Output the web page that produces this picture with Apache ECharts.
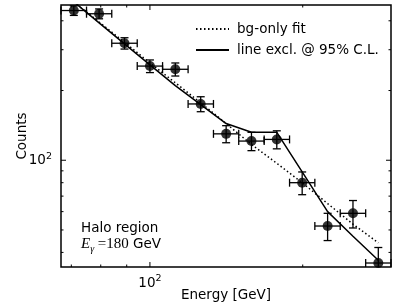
<!DOCTYPE html>
<html><head><meta charset="utf-8">
<script src="https://cdn.jsdelivr.net/npm/echarts@6/dist/echarts.min.js"></script>
<style>html,body{margin:0;padding:0;background:#fff}#c{width:407px;height:305px}</style>
</head><body><div id="c"></div>
<script>
// ---- data ----
const binCenters = [70.8, 79.4, 89.1, 100, 112.2, 125.9, 141.3, 158.5, 177.8, 199.5, 223.9, 251.2, 281.8];
const binLow     = [66.8, 75.0, 84.1, 94.4, 105.9, 118.9, 133.4, 149.6, 167.9, 188.4, 211.3, 237.1, 266.1];
const binHigh    = [75.0, 84.1, 94.4, 105.9, 118.9, 133.4, 149.6, 167.9, 188.4, 211.3, 237.1, 266.1, 298.5];
const counts     = [443, 429, 320, 255, 247, 175, 130, 121, 123, 80, 52, 59, 36];
const countErr   = [21, 21, 18, 16, 16, 13, 11, 11, 11, 9, 7, 8, 6];
const lineModel  = [483, 392, 318, 258, 210, 174, 144, 132, 132, 89, 60, 47, 37];
const bgFit      = [482, 395, 323, 263, 216, 177, 144, 117, 97, 80, 65, 53, 44];
const xMajorTicks = [100];
const xMinorTicks = [70, 80, 90, 200];
const yMajorTicks = [100];
const yMinorTicks = [40, 50, 60, 70, 80, 90, 200, 300, 400];
const xRange = [66.8, 298.5];
const yRange = [34.6, 468];
const seriesNames = ['bg-only fit', 'line excl. @ 95% C.L.'];
const xTitle = 'Energy [GeV]';
const yTitle = 'Counts';
const noteLine1 = 'Halo region';

const FONT = 'DejaVu Sans';
const FS = 13.5;

function powLabel(v) {
  const e = Math.log10(v);
  if (Math.abs(e - Math.round(e)) < 1e-6) return '{b|10}{s|' + Math.round(e) + '}';
  return '';
}
const labelRich = {
  b: {fontSize: FS, fontFamily: FONT, color: '#000', lineHeight: 18},
  s: {fontSize: 9.5, fontFamily: FONT, color: '#000', verticalAlign: 'top', lineHeight: 7}
};

function tickSeries(axis, major, minor) {
  const data = major.map(v => axis === 'x' ? [v, 100, 1] : [100, v, 1])
    .concat(minor.map(v => axis === 'x' ? [v, 100, 0] : [100, v, 0]));
  return {
    type: 'custom', silent: true, z: 10, data: data,
    renderItem: function (params, api) {
      const cs = params.coordSys;
      const len = api.value(2) ? 5 : 2.5;
      const p = api.coord([api.value(0), api.value(1)]);
      const st = {stroke: '#000', lineWidth: 1};
      if (axis === 'x') {
        return {type: 'group', children: [
          {type: 'line', shape: {x1: p[0], y1: cs.y + cs.height, x2: p[0], y2: cs.y + cs.height - len}, style: st},
          {type: 'line', shape: {x1: p[0], y1: cs.y, x2: p[0], y2: cs.y + len}, style: st}
        ]};
      }
      return {type: 'group', children: [
        {type: 'line', shape: {x1: cs.x, y1: p[1], x2: cs.x + len, y2: p[1]}, style: st},
        {type: 'line', shape: {x1: cs.x + cs.width, y1: p[1], x2: cs.x + cs.width - len, y2: p[1]}, style: st}
      ]};
    }
  };
}

const errData = binCenters.map((x, i) => [x, counts[i], binLow[i], binHigh[i], counts[i] - countErr[i], counts[i] + countErr[i]]);

const chart = echarts.init(document.getElementById('c'), null, {renderer: 'canvas'});
chart.setOption({
  animation: false,
  backgroundColor: '#fff',
  textStyle: {fontFamily: FONT},
  grid: {left: 61, top: 5, width: 330, height: 262, show: true, borderColor: '#000', borderWidth: 1.5,
         backgroundColor: 'transparent', containLabel: false, outerBoundsMode: 'none'},
  legend: {
    orient: 'vertical', left: 190, top: 17, itemWidth: 33, itemHeight: 14, itemGap: 7,
    selectedMode: false,
    itemStyle: {opacity: 0, borderWidth: 0},
    textStyle: {fontSize: FS, fontFamily: FONT, color: '#000', padding: [0, 0, 0, 3]},
    data: seriesNames
  },
  xAxis: {
    type: 'log', logBase: 10, min: xRange[0], max: xRange[1],
    axisLine: {show: false}, axisTick: {show: false}, splitLine: {show: false},
    axisLabel: {formatter: powLabel, rich: labelRich, margin: 7, showMinLabel: false, showMaxLabel: false},
    name: xTitle, nameLocation: 'middle', nameGap: 21, nameMoveOverlap: false,
    nameTextStyle: {fontSize: FS, fontFamily: FONT, color: '#000'}
  },
  yAxis: {
    type: 'log', logBase: 10, min: yRange[0], max: yRange[1],
    axisLine: {show: false}, axisTick: {show: false}, splitLine: {show: false},
    axisLabel: {formatter: powLabel, rich: labelRich, margin: 9, showMinLabel: false, showMaxLabel: false},
    name: yTitle, nameLocation: 'middle', nameGap: 32, nameMoveOverlap: false,
    nameTextStyle: {fontSize: FS, fontFamily: FONT, color: '#000'}
  },
  graphic: [
    {type: 'text', x: 81, y: 228, style: {text: noteLine1, fontSize: FS, fontFamily: FONT, fill: '#000', verticalAlign: 'middle'}},
    {type: 'text', x: 81, y: 244, style: {
      text: '{e|E}{g|γ}{q| =180}{n| GeV}', verticalAlign: 'middle',
      rich: {
        e: {fontFamily: 'Liberation Serif', fontStyle: 'italic', fontSize: 15, color: '#000', lineHeight: 20},
        g: {fontFamily: 'Liberation Serif', fontStyle: 'italic', fontSize: 10, color: '#000', verticalAlign: 'bottom', lineHeight: 10},
        q: {fontFamily: 'Liberation Serif', fontSize: 15, color: '#000', lineHeight: 20},
        n: {fontFamily: FONT, fontSize: FS, color: '#000', lineHeight: 20}
      }
    }}
  ],
  series: [
    {name: seriesNames[0], type: 'line', symbol: 'none', z: 2,
     data: binCenters.map((x, i) => [x, bgFit[i]]),
     lineStyle: {color: '#000', width: 1.5, type: [1.5, 2.5]}, itemStyle: {color: '#000'}},
    {name: seriesNames[1], type: 'line', symbol: 'none', z: 2,
     data: binCenters.map((x, i) => [x, lineModel[i]]),
     lineStyle: {color: '#000', width: 1.5}, itemStyle: {color: '#000'}},
    {type: 'custom', silent: true, z: 3, data: errData,
     renderItem: function (params, api) {
       const cs = params.coordSys;
       const x0 = cs.x, x1 = cs.x + cs.width, y0 = cs.y, y1 = cs.y + cs.height;
       const c = api.coord([api.value(0), api.value(1)]);
       const l = api.coord([api.value(2), api.value(1)])[0];
       const r = api.coord([api.value(3), api.value(1)])[0];
       const b = api.coord([api.value(0), api.value(4)])[1];
       const t = api.coord([api.value(0), api.value(5)])[1];
       const cap = 4;
       const st = {stroke: '#000', lineWidth: 1.3};
       const L = Math.max(l, x0), R = Math.min(r, x1), T = Math.max(t, y0), B = Math.min(b, y1);
       const ch = [
         {type: 'line', shape: {x1: L, y1: c[1], x2: R, y2: c[1]}, style: st},
         {type: 'line', shape: {x1: c[0], y1: T, x2: c[0], y2: B}, style: st}
       ];
       if (l >= x0 - 0.5) ch.push({type: 'line', shape: {x1: l, y1: c[1] - cap, x2: l, y2: c[1] + cap}, style: st});
       if (r <= x1 + 0.5) ch.push({type: 'line', shape: {x1: r, y1: c[1] - cap, x2: r, y2: c[1] + cap}, style: st});
       if (t >= y0 - 0.5) ch.push({type: 'line', shape: {x1: c[0] - cap, y1: t, x2: c[0] + cap, y2: t}, style: st});
       if (b <= y1 + 0.5) ch.push({type: 'line', shape: {x1: c[0] - cap, y1: b, x2: c[0] + cap, y2: b}, style: st});
       return {type: 'group', children: ch};
     }},
    {type: 'scatter', symbol: 'circle', symbolSize: 10, z: 4, silent: true,
     data: binCenters.map((x, i) => [x, counts[i]]), itemStyle: {color: '#000'}},
    tickSeries('x', xMajorTicks, xMinorTicks),
    tickSeries('y', yMajorTicks, yMinorTicks)
  ]
});
</script>
</body></html>
